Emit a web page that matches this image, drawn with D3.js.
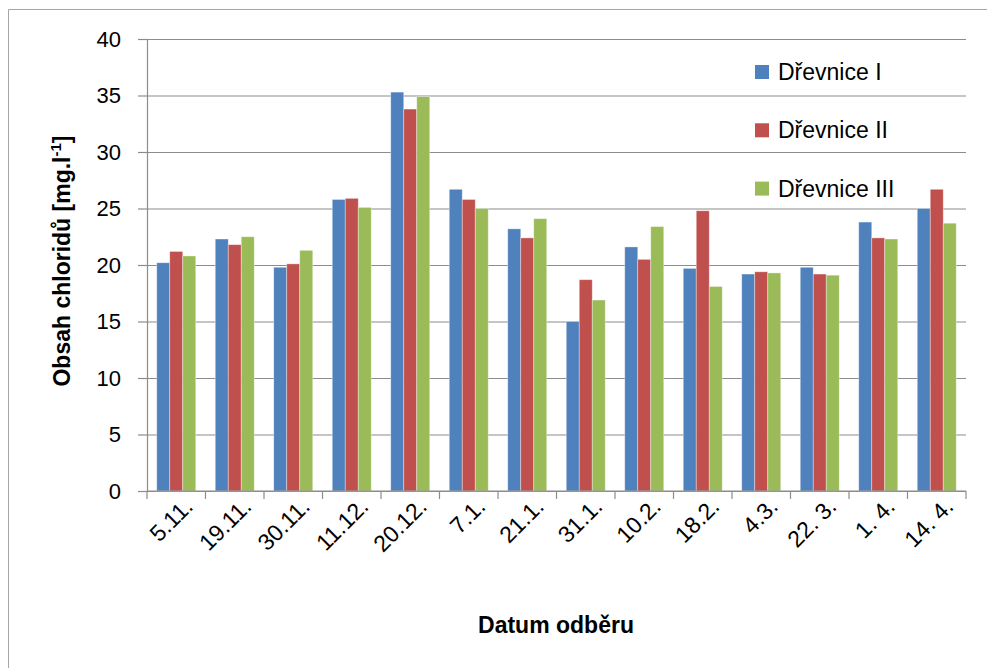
<!DOCTYPE html>
<html>
<head>
<meta charset="utf-8">
<script src="https://cdn.jsdelivr.net/npm/d3@7/dist/d3.min.js"></script>
<style>
  html, body { margin: 0; padding: 0; background: #fff; }
  svg { display: block; }
  text { font-family: "Liberation Sans", Arial, sans-serif; fill: #000; }
</style>
</head>
<body>
<svg id="chart" width="987" height="668"></svg>
<script>
// Sampling dates (x categories)
const categories = ["5.11.", "19.11.", "30.11.", "11.12.", "20.12.", "7.1.", "21.1.",
                    "31.1.", "10.2.", "18.2.", "4.3.", "22. 3.", "1. 4.", "14. 4."];

// Series names and chloride content [mg/l] per sampling date
const seriesNames = ["Dřevnice I", "Dřevnice II", "Dřevnice III"];
const drevniceI   = [20.2, 22.3, 19.8, 25.8, 35.3, 26.7, 23.2, 15.0, 21.6, 19.7, 19.2, 19.8, 23.8, 25.0];
const drevniceII  = [21.2, 21.8, 20.1, 25.9, 33.8, 25.8, 22.4, 18.7, 20.5, 24.8, 19.4, 19.2, 22.4, 26.7];
const drevniceIII = [20.8, 22.5, 21.3, 25.1, 34.9, 25.0, 24.1, 16.9, 23.4, 18.1, 19.3, 19.1, 22.3, 23.7];
const seriesColors = ["#4F81BD", "#C0504D", "#9BBB59"];

// Y axis tick values
const yTicks = [0, 5, 10, 15, 20, 25, 30, 35, 40];

const series = [drevniceI, drevniceII, drevniceIII];

const svg = d3.select("#chart");
const plot = { left: 147, right: 966, top: 39, bottom: 491 };

// Outer chart frame
svg.append("path")
  .attr("d", `M8.5,${668} V9.5 H${987}`)
  .attr("fill", "none")
  .attr("stroke", "#a6a6a6")
  .attr("stroke-width", 1);

const x = d3.scaleBand().domain(categories).range([plot.left, plot.right]).padding(0);
const xs = d3.scaleBand().domain(d3.range(series.length))
  .range([0, x.bandwidth()]).paddingInner(0).paddingOuter(0.75);
const y = d3.scaleLinear().domain([0, 40]).range([plot.bottom, plot.top]);

// Horizontal gridlines
svg.append("g")
  .attr("transform", `translate(${plot.left},0)`)
  .call(d3.axisLeft(y).tickValues(yTicks).tickSize(-(plot.right - plot.left)).tickFormat(""))
  .call(g => g.select(".domain").remove())
  .call(g => g.selectAll("line").attr("stroke", "#8c8c8c").attr("stroke-width", 1.2));

// Bars
const groups = svg.append("g").selectAll("g")
  .data(categories)
  .join("g")
  .attr("transform", d => `translate(${x(d)},0)`);

groups.selectAll("rect")
  .data((d, i) => series.map((s, k) => ({ k, v: s[i] })))
  .join("rect")
  .attr("x", d => xs(d.k))
  .attr("width", xs.bandwidth())
  .attr("y", d => y(d.v))
  .attr("height", d => y(0) - y(d.v))
  .attr("fill", d => seriesColors[d.k])
  .attr("stroke", "rgba(255,255,255,0.45)")
  .attr("stroke-width", 0.8);

// Y axis
const yAxis = svg.append("g")
  .attr("transform", `translate(${plot.left},0)`)
  .call(d3.axisLeft(y).tickValues(yTicks).tickSize(9).tickPadding(17).tickSizeOuter(0));
yAxis.select(".domain").attr("stroke", "#8c8c8c").attr("stroke-width", 1.2);
yAxis.selectAll("line").attr("stroke", "#8c8c8c").attr("stroke-width", 1.2);
yAxis.selectAll("text")
  .attr("font-family", "Liberation Sans, Arial, sans-serif")
  .attr("font-size", 22)
  .attr("fill", "#000");

// X axis: ticks on category boundaries
const xAxisG = svg.append("g").attr("transform", `translate(0,${plot.bottom})`);
xAxisG.append("line")
  .attr("x1", plot.left).attr("x2", plot.right)
  .attr("stroke", "#8c8c8c").attr("stroke-width", 1.2);
xAxisG.selectAll("line.tick")
  .data(d3.range(categories.length + 1))
  .join("line")
  .attr("class", "tick")
  .attr("x1", i => i < categories.length ? x(categories[i]) : plot.right)
  .attr("x2", i => i < categories.length ? x(categories[i]) : plot.right)
  .attr("y1", 0).attr("y2", 8)
  .attr("stroke", "#8c8c8c").attr("stroke-width", 1.2);

// Rotated date labels
svg.append("g").selectAll("text")
  .data(categories)
  .join("text")
  .attr("transform", d => `translate(${x(d) + x.bandwidth() / 2 + 18},${plot.bottom + 17}) rotate(-45)`)
  .attr("text-anchor", "end")
  .attr("font-size", 23)
  .text(d => d);

// Axis titles
svg.append("text")
  .attr("x", 556).attr("y", 633)
  .attr("text-anchor", "middle")
  .attr("font-size", 23)
  .attr("font-weight", "bold")
  .text("Datum odběru");

const yTitle = svg.append("text")
  .attr("transform", "translate(70,261) rotate(-90)")
  .attr("text-anchor", "middle")
  .attr("font-size", 23)
  .attr("font-weight", "bold");
yTitle.append("tspan").text("Obsah chloridů [mg.l");
yTitle.append("tspan").attr("font-size", 15).attr("dy", -9).text("-1");
yTitle.append("tspan").attr("dy", 9).text("]");

// Legend
const legend = svg.append("g").selectAll("g")
  .data(seriesNames)
  .join("g")
  .attr("transform", (d, i) => `translate(755,${65 + i * 58.3})`);
legend.append("rect")
  .attr("width", 14).attr("height", 14)
  .attr("fill", (d, i) => seriesColors[i]);
legend.append("text")
  .attr("x", 23).attr("y", 15)
  .attr("font-size", 23)
  .text(d => d);
</script>
</body>
</html>
